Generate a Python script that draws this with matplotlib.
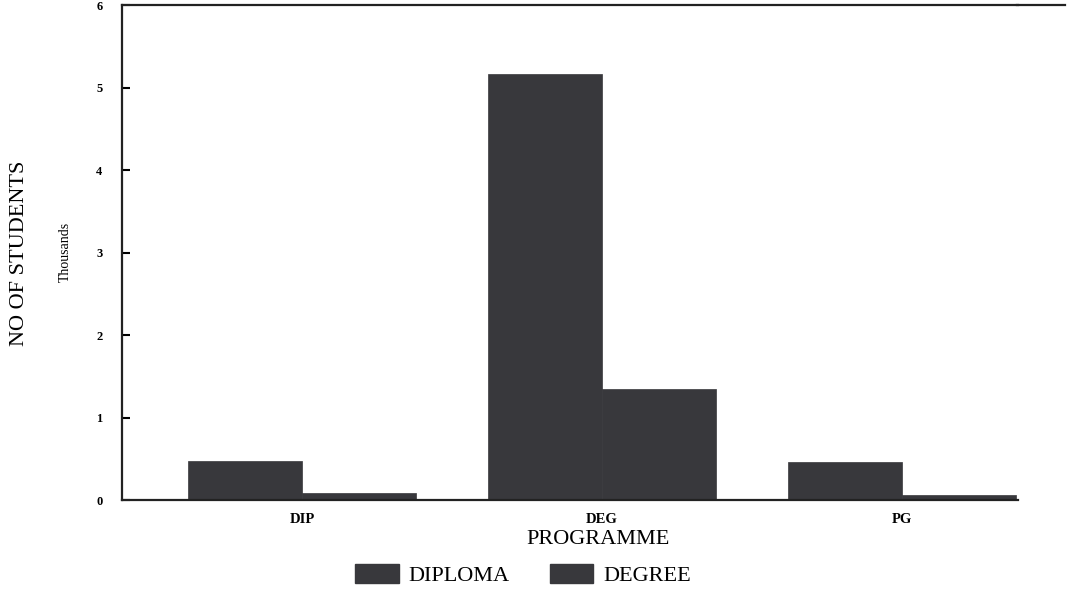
import numpy as np
import matplotlib
matplotlib.use("Agg")
from matplotlib import pyplot as plt
from matplotlib.patches import Patch
from matplotlib.lines import Line2D

# values in thousands of students
programmes = ["DIP", "DEG", "PG"]
diploma = [0.47, 5.16, 0.46]
degree = [0.08, 1.35, 0.06]
series_names = ["DIPLOMA", "DEGREE"]

BAR_COLOR = "#38383c"
SERIF = ["Liberation Serif", "DejaVu Serif"]

plt.rcParams["font.family"] = SERIF

fig = plt.figure(figsize=(10.7, 5.9), dpi=100)
ax = fig.add_axes([0.114, 0.1525, 0.837, 0.839])

x = np.arange(len(programmes))
w = 0.38
ax.bar(x - w / 2, diploma, width=w, color=BAR_COLOR, edgecolor=BAR_COLOR, linewidth=0.5)
ax.bar(x + w / 2, degree, width=w, color=BAR_COLOR, edgecolor=BAR_COLOR, linewidth=0.5)

ax.set_xlim(-0.6, 2.385)
ax.set_ylim(0, 6)
ax.set_xticks(x)
ax.set_xticklabels(programmes, fontsize=10.5, fontweight="bold")
ax.set_yticks(range(0, 7))
ax.set_yticklabels([str(i) for i in range(0, 7)], fontsize=9, fontweight="bold")
ax.tick_params(axis="x", length=0, pad=9)
ax.tick_params(axis="y", direction="in", length=6, width=1.5, pad=14)

for s in ["left", "top", "bottom"]:
    ax.spines[s].set_linewidth(1.6)
    ax.spines[s].set_color("#222222")
ax.spines["right"].set_visible(False)

# top frame line runs on past the plot area in the original
fig.add_artist(Line2D([0.95, 0.995], [0.9915, 0.9915], transform=fig.transFigure,
                      color="#222222", linewidth=1.6))

fig.text(0.018, 0.57, "NO OF STUDENTS", rotation=90, ha="center", va="center", fontsize=16)
fig.text(0.061, 0.573, "Thousands", rotation=90, ha="center", va="center", fontsize=10)
fig.text(0.559, 0.086, "PROGRAMME", ha="center", va="center", fontsize=16)

handles = [Patch(facecolor=BAR_COLOR, edgecolor=BAR_COLOR),
           Patch(facecolor=BAR_COLOR, edgecolor=BAR_COLOR)]
fig.legend(handles, series_names, loc="center", bbox_to_anchor=(0.489, 0.025), ncol=2,
           frameon=False, fontsize=16, handlelength=1.95, handleheight=0.9,
           handletextpad=0.45, columnspacing=1.8, borderpad=0)

fig.savefig("out.png", dpi=100, facecolor="white")
